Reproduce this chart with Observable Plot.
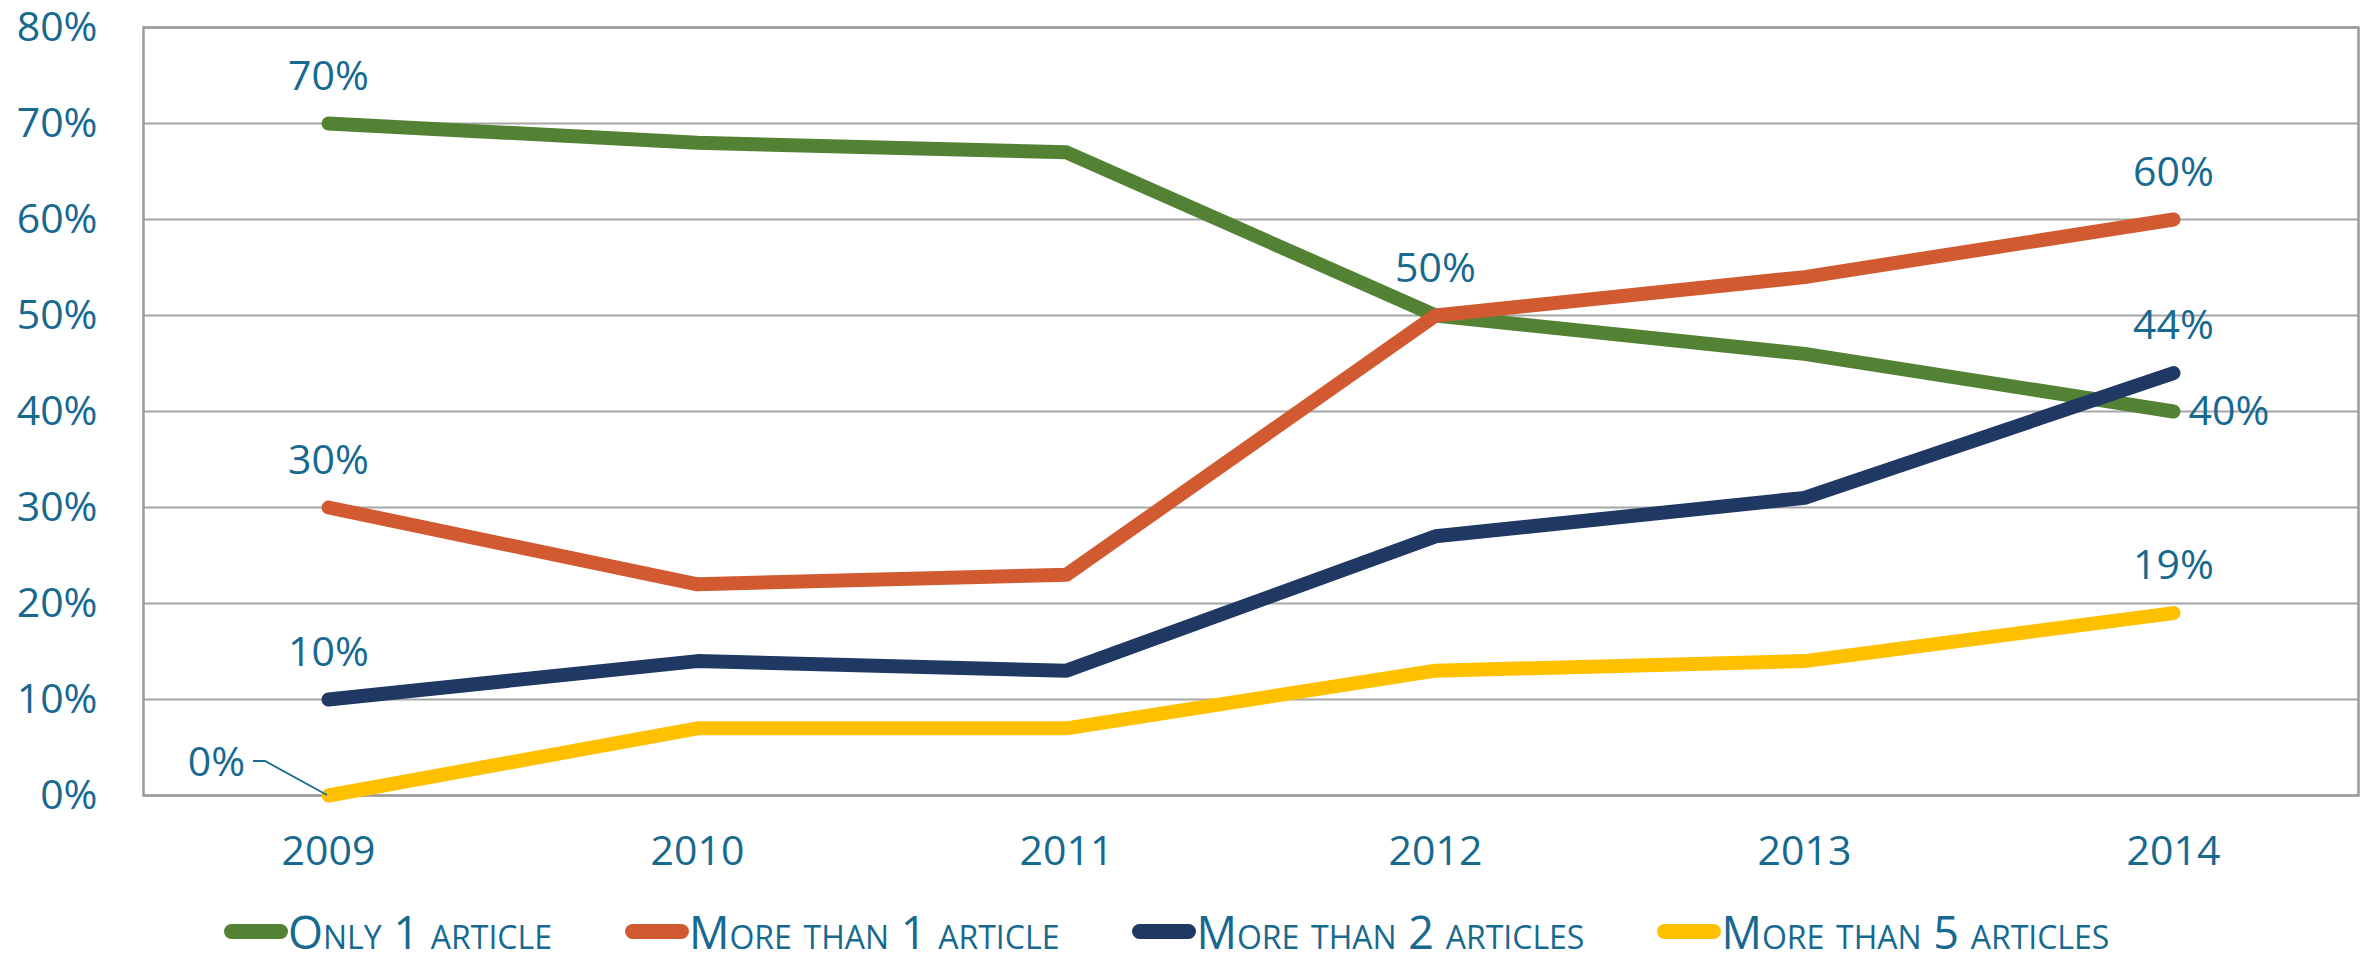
<!DOCTYPE html>
<html><head><meta charset="utf-8">
<script src="https://cdn.jsdelivr.net/npm/d3@7"></script>
<script src="https://cdn.jsdelivr.net/npm/@observablehq/plot@0.6"></script>
<style>
body{margin:0;background:#fff;font-family:"Open Sans",sans-serif;}
#legend{display:flex;align-items:center;gap:73px;padding-left:224px;height:47px;line-height:1;color:#17698f;font-size:45px;font-variant:small-caps;white-space:nowrap;}
.item{display:flex;align-items:center;}
.sw{width:64px;height:15px;border-radius:8px;}
</style></head><body><div id="chart"></div><div id="legend"></div>
<script>
const years = [2009, 2010, 2011, 2012, 2013, 2014];
const seriesNames = ["Only 1 article", "More than 1 article", "More than 2 articles", "More than 5 articles"];
const seriesColors = ["#548235", "#d15a30", "#203864", "#ffc000"];
const only1 = [70, 68, 67, 50, 46, 40];
const moreThan1 = [30, 22, 23, 50, 54, 60];
const moreThan2 = [10, 14, 13, 27, 31, 44];
const moreThan5 = [0, 7, 7, 13, 14, 19];
const yTicks = [0, 10, 20, 30, 40, 50, 60, 70, 80];
// labelled points: series index, year, placement
const labelSeries = [0, 0, 1, 1, 1, 2, 2, 3, 3];
const labelYears  = [2009, 2014, 2009, 2012, 2014, 2009, 2014, 2009, 2014];
const labelPlace  = ["above", "right", "above", "above", "above", "above", "above", "left", "above"];

const textColor = "#17698f";
const allValues = [only1, moreThan1, moreThan2, moreThan5];
const rows = [];
allValues.forEach((vals, s) => vals.forEach((v, i) => rows.push({series: seriesNames[s], year: years[i], value: v})));
const labels = labelSeries.map((s, i) => {
  const yi = years.indexOf(labelYears[i]);
  return {series: seriesNames[s], year: labelYears[i], value: allValues[s][yi], place: labelPlace[i]};
});
const fmt = d => d + "%";

const chart = Plot.plot({
  width: 2369,
  height: 908,
  marginLeft: 143,
  marginRight: 11,
  marginTop: 27,
  marginBottom: 113,
  style: {fontFamily: "Open Sans", fontSize: "41px", color: textColor, background: "#fff", overflow: "visible"},
  x: {type: "point", domain: years, padding: 0.5, label: null},
  y: {domain: [0, 80], ticks: yTicks, label: null},
  color: {domain: seriesNames, range: seriesColors},
  marks: [
    Plot.gridY(yTicks, {stroke: "#a6a6a6", strokeOpacity: 1, strokeWidth: 2}),
    Plot.frame({stroke: "#9a9a9a", strokeWidth: 2.5}),
    Plot.axisY(yTicks, {tickSize: 0, tickPadding: 46, tickFormat: fmt, fontSize: 41, fill: textColor}),
    Plot.axisX(years, {tickSize: 0, tickPadding: 40, tickFormat: d => String(d), fontSize: 41, fill: textColor}),
    Plot.line(rows, {x: "year", y: "value", z: "series", stroke: "series", strokeWidth: 14, strokeLinecap: "round", strokeLinejoin: "round"}),
    Plot.text(labels.filter(d => d.place === "above"), {x: "year", y: "value", text: d => fmt(d.value), dy: -47, fill: textColor, fontSize: 41}),
    Plot.text(labels.filter(d => d.place === "right"), {x: "year", y: "value", text: d => fmt(d.value), dx: 15, textAnchor: "start", fill: textColor, fontSize: 41}),
    Plot.text(labels.filter(d => d.place === "left"), {x: "year", y: "value", text: d => fmt(d.value), dx: -112, dy: -33, fill: textColor, fontSize: 41})
  ]
});
document.getElementById("chart").appendChild(chart);

// leader line for left-placed labels, positioned through the plot's scales
const xs = chart.scale("x"), ys = chart.scale("y");
labels.filter(d => d.place === "left").forEach(d => {
  const px = xs.apply(d.year), py = ys.apply(d.value);
  d3.select(chart).append("path")
    .attr("d", `M${px - 75},${py - 34}H${px - 63}L${px - 1},${py}`)
    .attr("fill", "none").attr("stroke", textColor).attr("stroke-width", 1.8);
});

const legend = d3.select("#legend");
seriesNames.forEach((n, i) => {
  const it = legend.append("div").attr("class", "item");
  it.append("div").attr("class", "sw").style("background", seriesColors[i]);
  it.append("span").text(n);
});
</script></body></html>
